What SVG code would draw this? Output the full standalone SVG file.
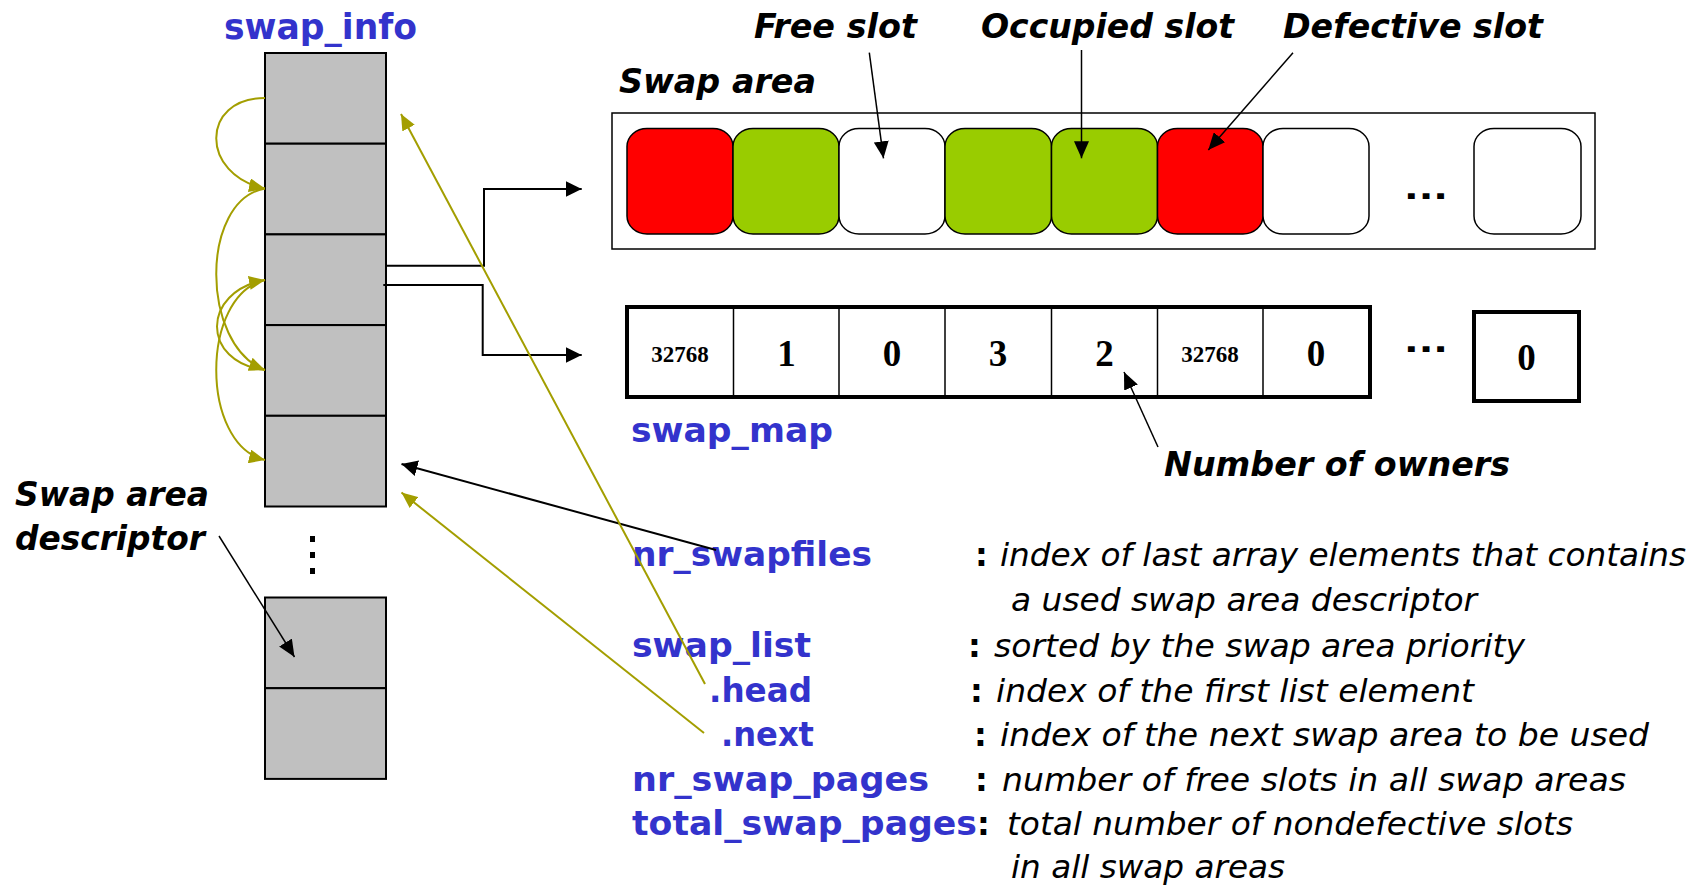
<svg xmlns="http://www.w3.org/2000/svg" width="1690" height="886" viewBox="0 0 1690 886">
  <defs>
    <style>
      .blue { font-family: "DejaVu Sans", "Liberation Sans", sans-serif; font-weight: bold; fill: #3333CC; }
      .lbl { font-family: "DejaVu Sans", "Liberation Sans", sans-serif; font-weight: bold; font-style: italic; fill: #000; }
      .desc { font-family: "DejaVu Sans", "Liberation Sans", sans-serif; font-style: italic; fill: #000; font-size: 32px; }
      .colon { font-family: "DejaVu Sans", "Liberation Sans", sans-serif; font-weight: bold; fill: #000; font-size: 32px; }
      .num { font-family: "Liberation Serif", "Times New Roman", serif; font-weight: bold; fill: #000; text-anchor: middle; }
      .cell { fill: #C0C0C0; stroke: #000; stroke-width: 2; }
      .slot { stroke: #000; stroke-width: 1.5; }
      .red { fill: #FF0000; }
      .green { fill: #99CC00; }
      .white { fill: #FFFFFF; }
      .blk { fill: none; stroke: #000; stroke-width: 2; }
      .thin { fill: none; stroke: #000; stroke-width: 1.5; }
      .olive { fill: none; stroke: #A39E00; stroke-width: 2; }
    </style>
    <marker id="ah" markerUnits="userSpaceOnUse" markerWidth="16" markerHeight="16" refX="16" refY="8" orient="auto" viewBox="0 0 16 16">
      <path d="M0,0 L16,8 L0,16 z" fill="#000"/>
    </marker>
    <marker id="ahn" markerUnits="userSpaceOnUse" markerWidth="17" markerHeight="15" refX="17" refY="7.5" orient="auto" viewBox="0 0 17 15">
      <path d="M0,0 L17,7.5 L0,15 z" fill="#000"/>
    </marker>
    <marker id="aho" markerUnits="userSpaceOnUse" markerWidth="16" markerHeight="14" refX="16" refY="7" orient="auto" viewBox="0 0 16 14">
      <path d="M0,0 L16,7 L0,14 z" fill="#A39E00"/>
    </marker>
  </defs>

  <!-- swap_info array of swap area descriptors -->
  <g id="swap_info">
    <text class="blue" x="224" y="39" font-size="36" textLength="193" lengthAdjust="spacingAndGlyphs">swap_info</text>
    <rect class="cell" x="265" y="53" width="121" height="90.7"/>
    <rect class="cell" x="265" y="143.7" width="121" height="90.7"/>
    <rect class="cell" x="265" y="234.4" width="121" height="90.7"/>
    <rect class="cell" x="265" y="325.1" width="121" height="90.7"/>
    <rect class="cell" x="265" y="415.8" width="121" height="90.7"/>
    <rect x="310" y="536" width="5" height="6" fill="#000"/>
    <rect x="310" y="552" width="5" height="6" fill="#000"/>
    <rect x="310" y="568" width="5" height="6" fill="#000"/>
    <rect class="cell" x="265" y="597.5" width="121" height="90.7"/>
    <rect class="cell" x="265" y="688.2" width="121" height="90.7"/>
  </g>

  <g id="descriptor-label">
    <text class="lbl" x="15" y="506" font-size="34" textLength="194" lengthAdjust="spacingAndGlyphs">Swap area</text>
    <text class="lbl" x="15" y="550" font-size="34" textLength="190" lengthAdjust="spacingAndGlyphs">descriptor</text>
  </g>

  <!-- swap area with its page slots -->
  <g id="swap_area">
    <text class="lbl" x="619" y="93" font-size="34" textLength="197" lengthAdjust="spacingAndGlyphs">Swap area</text>
    <rect x="612" y="113" width="983" height="136" fill="#fff" stroke="#000" stroke-width="1.5"/>
    <rect class="slot red" x="627" y="128.5" width="106" height="105.5" rx="20" ry="18"/>
    <rect class="slot green" x="733" y="128.5" width="106" height="105.5" rx="20" ry="18"/>
    <rect class="slot white" x="839" y="128.5" width="106" height="105.5" rx="20" ry="18"/>
    <rect class="slot green" x="945" y="128.5" width="106.5" height="105.5" rx="20" ry="18"/>
    <rect class="slot green" x="1051.5" y="128.5" width="106" height="105.5" rx="20" ry="18"/>
    <rect class="slot red" x="1157.5" y="128.5" width="105.5" height="105.5" rx="20" ry="18"/>
    <rect class="slot white" x="1263" y="128.5" width="106" height="105.5" rx="20" ry="18"/>
    <text x="1404" y="199" font-family="DejaVu Sans, sans-serif" font-weight="bold" font-size="30" textLength="44" lengthAdjust="spacingAndGlyphs">...</text>
    <rect class="slot white" x="1474" y="128.5" width="107" height="105.5" rx="20" ry="18"/>
  </g>

  <g id="slot-labels">
    <text class="lbl" x="754" y="38" font-size="34" textLength="163" lengthAdjust="spacingAndGlyphs">Free slot</text>
    <text class="lbl" x="981" y="38" font-size="34" textLength="253" lengthAdjust="spacingAndGlyphs">Occupied slot</text>
    <text class="lbl" x="1283" y="38" font-size="34" textLength="260" lengthAdjust="spacingAndGlyphs">Defective slot</text>
  </g>

  <!-- swap_map counters -->
  <g id="swap_map">
    <rect x="627" y="307" width="743" height="90" fill="#fff" stroke="#000" stroke-width="4"/>
    <line x1="733.5" y1="307" x2="733.5" y2="397" stroke="#000" stroke-width="1.5"/>
    <line x1="839" y1="307" x2="839" y2="397" stroke="#000" stroke-width="1.5"/>
    <line x1="945" y1="307" x2="945" y2="397" stroke="#000" stroke-width="1.5"/>
    <line x1="1051.5" y1="307" x2="1051.5" y2="397" stroke="#000" stroke-width="1.5"/>
    <line x1="1157.5" y1="307" x2="1157.5" y2="397" stroke="#000" stroke-width="1.5"/>
    <line x1="1263" y1="307" x2="1263" y2="397" stroke="#000" stroke-width="1.5"/>
    <text class="num" x="680" y="362" font-size="23">32768</text>
    <text class="num" x="786.5" y="366" font-size="37">1</text>
    <text class="num" x="892" y="366" font-size="37">0</text>
    <text class="num" x="998" y="366" font-size="37">3</text>
    <text class="num" x="1104.5" y="366" font-size="37">2</text>
    <text class="num" x="1210" y="362" font-size="23">32768</text>
    <text class="num" x="1316" y="366" font-size="37">0</text>
    <text x="1404" y="352" font-family="DejaVu Sans, sans-serif" font-weight="bold" font-size="30" textLength="44" lengthAdjust="spacingAndGlyphs">...</text>
    <rect x="1474" y="312" width="105" height="89" fill="#fff" stroke="#000" stroke-width="4"/>
    <text class="num" x="1526.5" y="370" font-size="37">0</text>
    <text class="blue" x="631" y="442" font-size="34" textLength="202" lengthAdjust="spacingAndGlyphs">swap_map</text>
  </g>

  <g id="owners-label">
    <text class="lbl" x="1164" y="476" font-size="34" textLength="346" lengthAdjust="spacingAndGlyphs">Number of owners</text>
  </g>

  <!-- global variables and their meaning -->
  <g id="variables">
    <text class="blue" x="632" y="566" font-size="33" textLength="240" lengthAdjust="spacingAndGlyphs">nr_swapfiles</text>
    <text class="colon" x="975" y="566">:</text>
    <text class="desc" x="1000" y="566" textLength="686" lengthAdjust="spacingAndGlyphs">index of last array elements that contains</text>
    <text class="desc" x="1011" y="611" textLength="466" lengthAdjust="spacingAndGlyphs">a used swap area descriptor</text>

    <text class="blue" x="632" y="657" font-size="33" textLength="179" lengthAdjust="spacingAndGlyphs">swap_list</text>
    <text class="colon" x="968" y="657">:</text>
    <text class="desc" x="994" y="657" textLength="531" lengthAdjust="spacingAndGlyphs">sorted by the swap area priority</text>

    <text class="blue" x="709" y="702" font-size="33" textLength="103" lengthAdjust="spacingAndGlyphs">.head</text>
    <text class="colon" x="970" y="702">:</text>
    <text class="desc" x="996" y="702" textLength="478" lengthAdjust="spacingAndGlyphs">index of the first list element</text>

    <text class="blue" x="721" y="746" font-size="33" textLength="93" lengthAdjust="spacingAndGlyphs">.next</text>
    <text class="colon" x="974" y="746">:</text>
    <text class="desc" x="1000" y="746" textLength="649" lengthAdjust="spacingAndGlyphs">index of the next swap area to be used</text>

    <text class="blue" x="632" y="791" font-size="33" textLength="297" lengthAdjust="spacingAndGlyphs">nr_swap_pages</text>
    <text class="colon" x="975" y="791">:</text>
    <text class="desc" x="1002" y="791" textLength="624" lengthAdjust="spacingAndGlyphs">number of free slots in all swap areas</text>

    <text class="blue" x="632" y="835" font-size="33" textLength="345" lengthAdjust="spacingAndGlyphs">total_swap_pages</text>
    <text class="colon" x="977" y="835">:</text>
    <text class="desc" x="1007" y="835" textLength="566" lengthAdjust="spacingAndGlyphs">total number of nondefective slots</text>
    <text class="desc" x="1011" y="878" textLength="274" lengthAdjust="spacingAndGlyphs">in all swap areas</text>
  </g>

  <!-- pointers and links -->
  <g id="connectors">
    <path class="blk" d="M386.7,265.7 H484 V189 H581.7" marker-end="url(#ah)"/>
    <path class="blk" d="M383.3,285 H482.7 V355 H581.7" marker-end="url(#ah)"/>

    <line class="thin" x1="869.3" y1="52.7" x2="883.5" y2="158.3" marker-end="url(#ahn)"/>
    <line class="thin" x1="1081.5" y1="50" x2="1081.5" y2="158.3" marker-end="url(#ahn)"/>
    <line class="thin" x1="1293" y1="52.7" x2="1208.3" y2="150" marker-end="url(#ahn)"/>
    <line class="thin" x1="1158" y1="447" x2="1124" y2="372" marker-end="url(#ahn)"/>
    <line class="thin" x1="219" y1="536" x2="294.5" y2="657" marker-end="url(#ahn)"/>

    <line class="blk" x1="716" y1="550" x2="401.5" y2="464" marker-end="url(#ah)"/>
    <line class="olive" x1="705" y1="684" x2="401" y2="114" marker-end="url(#aho)"/>
    <line class="olive" x1="704" y1="733" x2="401.5" y2="492.5" marker-end="url(#aho)"/>

    <!-- swap_list chain between descriptors -->
    <path class="olive" d="M265,98 C200,98 200,175 265,188.5" marker-end="url(#aho)"/>
    <path class="olive" d="M265,188.5 C200,200 200,345 265,370" marker-end="url(#aho)"/>
    <path class="olive" d="M265,370 C201,362 201,292 265,280" marker-end="url(#aho)"/>
    <path class="olive" d="M265,280 C200,295 200,445 265,460" marker-end="url(#aho)"/>
  </g>
</svg>
